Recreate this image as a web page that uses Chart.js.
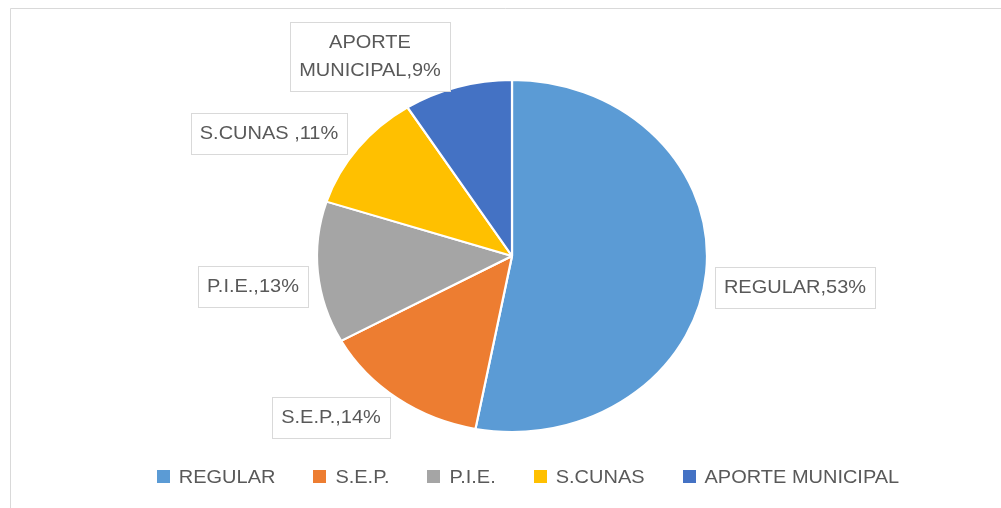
<!DOCTYPE html>
<html><head><meta charset="utf-8">
<script src="https://cdn.jsdelivr.net/npm/chart.js@4.4.1/dist/chart.umd.min.js"></script>
<style>html,body{margin:0;padding:0;background:#fff;} canvas{display:block;}</style>
</head><body>
<canvas id="c" width="1001" height="508"></canvas>
<script>
// ---- data ----
const categories = ['REGULAR', 'S.E.P.', 'P.I.E.', 'S.CUNAS', 'APORTE MUNICIPAL'];
const values = [53, 14, 13, 11, 9];
const labelNames = ['REGULAR', 'S.E.P.', 'P.I.E.', 'S.CUNAS ', 'APORTE\nMUNICIPAL'];
const colors = ['#5B9BD5', '#ED7D31', '#A5A5A5', '#FFC000', '#4472C4'];

// ---- layout / style constants ----
const labelNudge = [[0, 15], [2, 19], [-1, 14], [-2, -15], [1, -30]];
const SX = 1.108;      // horizontal stretch of the pie
const TX = 1.11;       // horizontal stretch of text
const FONT = '18px "Liberation Sans", Arial, sans-serif';
const TEXT_COLOR = '#595959';
const GAP = 9;

const total = values.reduce((a, b) => a + b, 0);

const framePlugin = {
  id: 'frame',
  beforeDraw(chart) {
    const ctx = chart.ctx;
    ctx.save();
    ctx.fillStyle = '#fff';
    ctx.fillRect(0, 0, chart.width, chart.height);
    ctx.strokeStyle = '#d9d9d9';
    ctx.lineWidth = 1;
    ctx.beginPath();
    ctx.moveTo(10.5, chart.height);
    ctx.lineTo(10.5, 8.5);
    ctx.lineTo(chart.width, 8.5);
    ctx.stroke();
    ctx.restore();
  }
};

const stretchPlugin = {
  id: 'stretch',
  beforeDatasetsDraw(chart) {
    const a = chart.getDatasetMeta(0).data[0];
    const ctx = chart.ctx;
    ctx.save();
    ctx.translate(a.x, a.y);
    ctx.scale(SX, 1);
    ctx.translate(-a.x, -a.y);
  },
  afterDatasetsDraw(chart) {
    chart.ctx.restore();
  }
};

const labelPlugin = {
  id: 'sliceLabels',
  afterDraw(chart) {
    const ctx = chart.ctx;
    const meta = chart.getDatasetMeta(0);
    ctx.save();
    ctx.font = FONT;
    meta.data.forEach((arc, i) => {
      const p = arc.getProps(['x', 'y', 'startAngle', 'endAngle', 'outerRadius'], true);
      const mid = (p.startAngle + p.endAngle) / 2;
      const ex = p.x + SX * p.outerRadius * Math.cos(mid);
      const ey = p.y + p.outerRadius * Math.sin(mid);
      const pct = Math.round(values[i] / total * 100);
      const lines = (labelNames[i] + ',' + pct + '%').split('\n');
      const tw = Math.max(...lines.map(l => ctx.measureText(l).width)) * TX;
      const bw = Math.round(tw + 18);
      const bh = 41 + (lines.length - 1) * 28;
      let bx = Math.cos(mid) >= 0 ? ex + GAP : ex - GAP - bw;
      let by = ey - bh / 2;
      bx = Math.round(bx + labelNudge[i][0]);
      by = Math.round(by + labelNudge[i][1]);
      ctx.fillStyle = '#fff';
      ctx.fillRect(bx, by, bw, bh);
      ctx.strokeStyle = '#d9d9d9';
      ctx.lineWidth = 1;
      ctx.strokeRect(bx + 0.5, by + 0.5, bw, bh);
      lines.forEach((l, k) => {
        const ty = by + bh / 2 + (k - (lines.length - 1) / 2) * 28 + 1;
        ctx.save();
        ctx.translate(bx + bw / 2, ty);
        ctx.scale(TX, 1);
        ctx.textAlign = 'center';
        ctx.textBaseline = 'middle';
        ctx.fillStyle = TEXT_COLOR;
        ctx.fillText(l, 0, 0);
        ctx.restore();
      });
    });
    ctx.restore();
  }
};

const LEG_CX = 528, LEG_Y = 477, SQ = 13, SQ_GAP = 9, ITEM_GAP = 38;
const legendPlugin = {
  id: 'customLegend',
  afterDraw(chart) {
    const ctx = chart.ctx;
    ctx.save();
    ctx.font = FONT;
    const ds = chart.data.datasets[0];
    const widths = chart.data.labels.map(t => ctx.measureText(t).width * TX);
    const tot = widths.reduce((s, w) => s + SQ + SQ_GAP + w, 0) + ITEM_GAP * (widths.length - 1);
    let x = LEG_CX - tot / 2;
    chart.data.labels.forEach((t, i) => {
      ctx.fillStyle = ds.backgroundColor[i];
      ctx.fillRect(Math.round(x), LEG_Y - 7, SQ, SQ);
      ctx.save();
      ctx.translate(x + SQ + SQ_GAP, LEG_Y + 1);
      ctx.scale(TX, 1);
      ctx.textAlign = 'left';
      ctx.textBaseline = 'middle';
      ctx.fillStyle = TEXT_COLOR;
      ctx.fillText(t, 0, 0);
      ctx.restore();
      x += SQ + SQ_GAP + widths[i] + ITEM_GAP;
    });
    ctx.restore();
  }
};

new Chart(document.getElementById('c'), {
  type: 'pie',
  data: {
    labels: categories,
    datasets: [{
      data: values,
      backgroundColor: colors,
      borderColor: '#ffffff',
      borderWidth: 2,
      radius: 176
    }]
  },
  options: {
    responsive: false,
    animation: false,
    layout: { padding: { top: 80, bottom: 76, left: 23, right: 0 } },
    plugins: {
      legend: { display: false },
      tooltip: { enabled: false }
    }
  },
  plugins: [framePlugin, stretchPlugin, labelPlugin, legendPlugin]
});
</script>
</body></html>
